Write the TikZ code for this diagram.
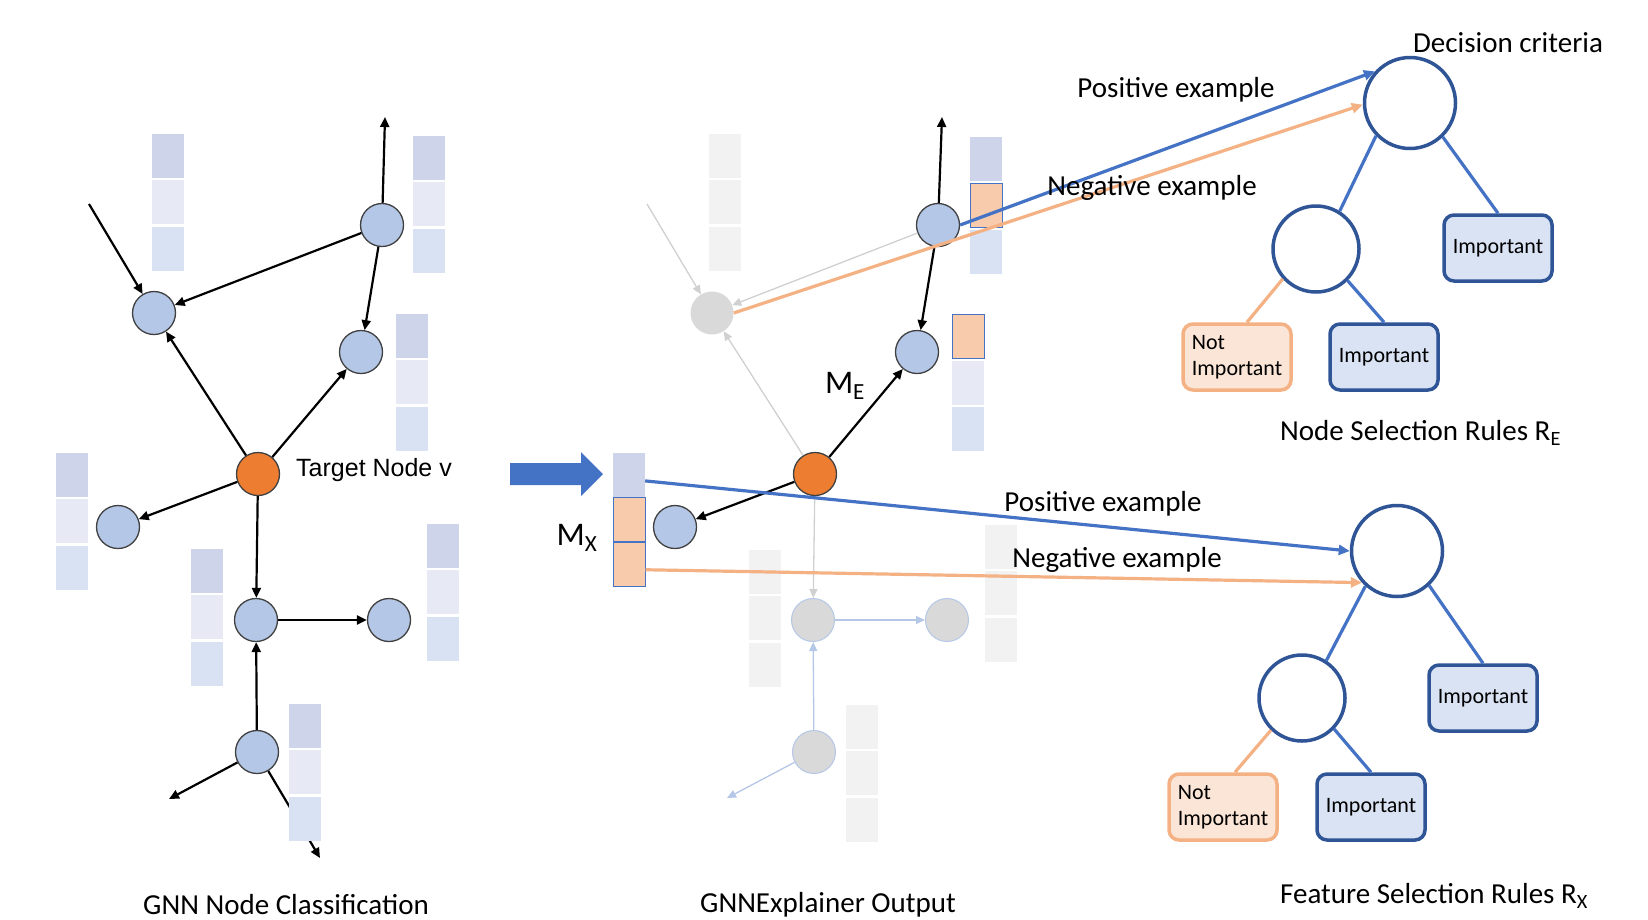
\documentclass[tikz,border=0pt]{standalone}
\usepackage{fontspec}
\setmainfont{Carlito}
\newfontfamily\arialfont{Liberation Sans}
\usetikzlibrary{positioning,arrows.meta}

\definecolor{nodeblue}{RGB}{180,199,231}
\definecolor{vorange}{RGB}{237,125,49}
\definecolor{lav}{RGB}{206,212,234}
\definecolor{pale}{RGB}{231,234,245}
\definecolor{sky}{RGB}{217,226,243}
\definecolor{ghost}{RGB}{242,242,242}
\definecolor{ghostnode}{RGB}{217,217,217}
\definecolor{fade}{RGB}{208,208,208}
\definecolor{maskfill}{RGB}{248,203,173}
\definecolor{lineblue}{RGB}{68,114,196}
\definecolor{lineorange}{RGB}{244,177,131}
\definecolor{treeblue}{RGB}{47,85,151}
\definecolor{leafblue}{RGB}{218,227,243}
\definecolor{leafpeach}{RGB}{251,229,214}

\tikzset{
  gnode/.style={circle,draw=black!75,line width=1.3pt,fill=nodeblue,minimum size=43pt,inner sep=0pt},
  vnode/.style={gnode,fill=vorange},
  gone/.style={circle,fill=ghostnode,minimum size=43pt,inner sep=0pt},
  goneb/.style={gone,draw=nodeblue,line width=1pt},
  cell/.style={rectangle,minimum width=32pt,minimum height=44pt,inner sep=0pt},
  lavcell/.style={cell,fill=lav},
  palecell/.style={cell,fill=pale},
  skycell/.style={cell,fill=sky},
  greycell/.style={cell,fill=ghost},
  maskcell/.style={cell,fill=maskfill,draw=lineblue,line width=1pt},
  link/.style={draw=black,line width=2.2pt,-{Triangle[length=10pt,width=9pt]}},
  faded/.style={draw=fade,line width=1.3pt,-{Triangle[length=9pt,width=8pt]}},
  fadedb/.style={faded,draw=nodeblue},
  posline/.style={draw=lineblue,line width=3.2pt,-{Triangle[length=11pt,width=10pt]}},
  negline/.style={posline,draw=lineorange},
  decision/.style={circle,draw=treeblue,line width=3.5pt,minimum size=#1,inner sep=0pt},
  leaf/.style={rectangle,rounded corners=10pt,draw=treeblue,fill=leafblue,line width=3.5pt,
    minimum width=108pt,minimum height=66pt,font=\fontsize{22}{26}\selectfont},
  notleaf/.style={leaf,draw=lineorange,fill=leafpeach,align=left},
  branch/.style={draw=lineblue,line width=3.2pt},
  txt/.style={inner sep=0pt,font=\fontsize{29}{34}\selectfont},
  mtxt/.style={inner sep=0pt,font=\fontsize{33}{38}\selectfont},
}

% three stacked feature cells, optional gap between them
\newcommand{\featbar}[6][2pt]{%
  \node[#4] (#2-1) at #3 {};
  \node[#5,below=#1 of #2-1] (#2-2) {};
  \node[#6,below=#1 of #2-2] (#2-3) {};}

\begin{document}
\begin{tikzpicture}[x=1pt,y=-1pt]
  \useasboundingbox (0,0) rectangle (1648,919);

  % input graph
  \node[gnode] (lA) at (154,313) {};
  \node[gnode] (lB) at (382,225) {};
  \node[gnode] (lC) at (361,352) {};
  \node[vnode] (lV) at (258,474) {};
  \node[gnode] (lD) at (118,527) {};
  \node[gnode] (lE) at (256,620) {};
  \node[gnode] (lF) at (389,620) {};
  \node[gnode] (lG) at (257,752) {};
  \coordinate (lin) at (89,204);
  \coordinate (lup) at (385,117);
  \coordinate (lsw) at (169,799);
  \coordinate (lse) at (320,858);
  \draw[link] (lG) -- (lse);

  % explained graph
  \node[gone] (mA) at (712,313) {};
  \node[gnode] (mB) at (938,225) {};
  \node[gnode] (mC) at (917,352) {};
  \node[vnode] (mV) at (815,474) {};
  \node[gnode] (mD) at (675,527) {};
  \node[goneb] (mE) at (813,620) {};
  \node[goneb] (mF) at (947,620) {};
  \node[goneb] (mG) at (814,752) {};
  \coordinate (min) at (647,204);
  \coordinate (mup) at (942,117);
  \coordinate (msw) at (727,798);

  \featbar{bA}{(168,156)}{lavcell}{palecell}{skycell}
  \featbar{bB}{(429,158)}{lavcell}{palecell}{skycell}
  \featbar{bC}{(412,336)}{lavcell}{palecell}{skycell}
  \featbar{bD}{(72,475)}{lavcell}{palecell}{skycell}
  \featbar{bE}{(207,571)}{lavcell}{palecell}{skycell}
  \featbar{bF}{(443,546)}{lavcell}{palecell}{skycell}
  \featbar{bG}{(305,726)}{lavcell}{palecell}{skycell}

  \featbar{gA}{(725,156)}{greycell}{greycell}{greycell}
  \featbar{mb}{(986,159)}{lavcell}{maskcell}{skycell}
  \featbar{mc}{(968,336)}{maskcell}{palecell}{skycell}
  \featbar[0pt]{mx}{(629,475)}{lavcell}{maskcell}{maskcell}
  \featbar{gE}{(765,572)}{greycell}{greycell}{greycell}
  \featbar{gF}{(1001,547)}{greycell}{greycell}{greycell}
  \featbar{gG}{(862,727)}{greycell}{greycell}{greycell}

  \draw[link] (lin) -- (lA);
  \draw[link] (lB) -- (lA);
  \draw[link] (lB) -- (lC);
  \draw[link] (lB) -- (lup);
  \draw[link] (lV) -- (lA);
  \draw[link] (lV) -- (lC);
  \draw[link] (lV) -- (lD);
  \draw[link] (lV) -- (lE);
  \draw[link] (lE) -- (lF);
  \draw[link] (lG) -- (lE);
  \draw[link] (lG) -- (lsw);

  \draw[faded] (min) -- (mA);
  \draw[faded] (mB) -- (mA);
  \draw[link] (mB) -- (mC);
  \draw[link] (mB) -- (mup);
  \draw[faded] (mV) -- (mA);
  \draw[link] (mV) -- (mC);
  \draw[link] (mV) -- (mD);
  \draw[faded] (mV) -- (mE);
  \draw[fadedb] (mE) -- (mF);
  \draw[fadedb] (mG) -- (mE);
  \draw[fadedb] (mG) -- (msw);

  \fill[lineblue] (510,463) -- (581,463) -- (581,452) -- (603,474) -- (581,496)
    -- (581,485) -- (510,485) -- cycle;

  % decision trees
  \node[decision=91pt] (root1) at (1410,103) {};
  \node[decision=86pt] (child1) at (1316,249) {};
  \node[leaf] (imp1r) at (1498,248) {Important};
  \node[notleaf] (not1) at (1237,357) {Not\\Important};
  \node[leaf] (imp1) at (1384,357) {Important};
  \draw[branch] (root1.224) -- (child1.58);
  \draw[branch] (root1.-46) -- (imp1r.north);
  \draw[branch,draw=lineorange] (child1.222) -- ([xshift=10pt]not1.north);
  \draw[branch] (child1.-45) -- (imp1.north);

  \node[decision=91pt] (root2) at (1397,551) {};
  \node[decision=86pt] (child2) at (1302,698) {};
  \node[leaf] (imp2r) at (1483,698) {Important};
  \node[notleaf] (not2) at (1223,807) {Not\\Important};
  \node[leaf] (imp2) at (1371,807) {Important};
  \draw[branch] (root2.228) -- (child2.57);
  \draw[branch] (root2.-47) -- (imp2r.north);
  \draw[branch,draw=lineorange] (child2.226) -- ([xshift=12pt]not2.north);
  \draw[branch] (child2.-44) -- (imp2.north);

  \draw[posline] (mB.east) -- (root1.138);
  \draw[negline] (mA.east) -- (root1.182);
  \draw[posline] (mx-1.-20) -- (root2.west);
  \draw[negline] (mx-3.-17) -- (root2.222);

  \node[inner sep=0pt,anchor=west,font=\arialfont\fontsize{25}{30}\selectfont] (vlab) at (296,470) {Target Node v};
  \node[mtxt] (me) at (845,386) {M\textsubscript{E}};
  \node[mtxt] (mxl) at (577,538) {M\textsubscript{X}};

  \node[txt] (crit) at (1508,43) {Decision criteria};
  \node[txt] (pos1) at (1176,90) {Positive example};
  \node[txt] (neg1) at (1152,188) {Negative example};
  \node[txt,anchor=west] (rule1) at (1280,433) {Node Selection Rules R\textsubscript{E}};
  \node[txt] (pos2) at (1103,504) {Positive example};
  \node[txt] (neg2) at (1117,560) {Negative example};
  \node[txt,anchor=west] (rule2) at (1280,896) {Feature Selection Rules R\textsubscript{X}};
  \node[txt] (capl) at (286,905) {GNN Node Classification};
  \node[txt] (capm) at (828,905) {GNNExplainer Output};
\end{tikzpicture}
\end{document}
